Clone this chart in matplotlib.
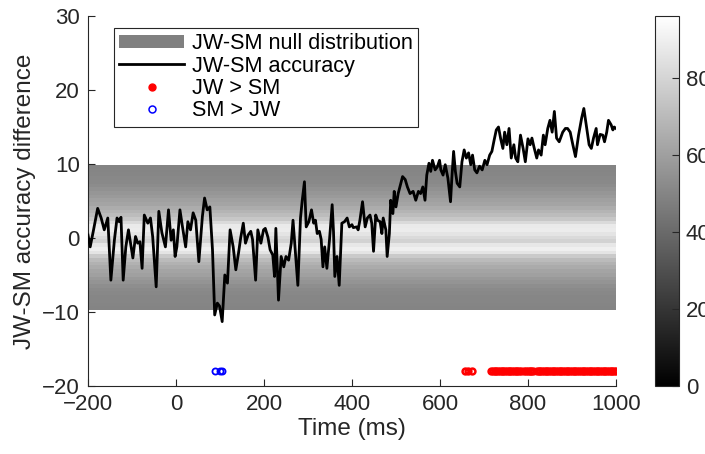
import matplotlib
matplotlib.use("Agg")
import matplotlib.pyplot as plt
from matplotlib.lines import Line2D
from matplotlib.patches import Patch
from matplotlib.colors import Normalize
from matplotlib.cm import ScalarMappable
import numpy as np

plt.rcParams['font.family'] = ['Liberation Sans', 'DejaVu Sans']

# observed JW-SM accuracy difference (ms, %)
acc_time = [-200, -195, -188, -178, -170, -163, -155, -148, -140, -134, -129, -125, -120, -114, -108,
            -102, -98, -92, -87, -82, -77, -72, -64, -58, -53, -45, -39, -32, -24, -17, -11, -6, -2,
            2, 9, 14, 22, 27, 33, 39, 45, 52, 60, 65, 71, 77, 83, 88, 94, 99, 105, 111, 117,
            123, 130, 136, 142, 147, 153, 158, 164, 170, 174, 181, 186, 193, 199,
            203, 209, 214, 220, 224, 227, 233, 239, 245, 250, 256, 262, 266, 271, 277, 283, 287, 292,
            296, 302, 308, 313, 317, 321, 326, 330, 334, 338, 343, 349, 355, 358, 361, 366, 371, 377,
            383, 389, 394, 400,
            403, 411, 414, 418, 424, 430, 435, 441, 445, 449, 454, 458, 464, 468, 471, 477, 480, 485,
            488, 493, 496, 500, 505, 511, 515, 521, 526, 532, 539, 545, 551, 556, 561, 566, 570, 575,
            579, 583, 589, 594, 599,
            602, 607, 612, 618, 624, 627, 631, 635, 639, 645, 650, 655, 660, 665, 670, 674, 679, 684,
            690, 696, 702, 707, 713, 718, 723, 728, 733, 738, 743, 747, 752, 757, 762, 768, 772, 777,
            783, 789, 794, 800,
            805, 809, 814, 820, 824, 830, 835, 839, 845, 850, 855, 860, 865, 871, 879, 885, 890, 896,
            902, 908, 915, 922, 927, 932, 936, 939, 944, 949, 955, 958, 964, 970, 974, 979, 983, 989,
            993, 996, 1000]
acc_diff = [0.4, -1.2, 0.9, 4.0, 2.7, 1.1, 2.7, -5.7, -0.3, 2.7, 2.2, 2.8, -5.7, -1.2, 1.1,
            -1.2, -2.7, 0.2, -0.7, -0.5, -4.1, 3.1, 2.0, 2.7, 0.2, -6.6, 3.6, 0.7, -1.2, 3.8, -0.3, 1.1, -2.5,
            -1.2, 3.8, 1.8, -1.2, 2.2, 1.1, 3.4, 2.4, -3.2, 2.9, 5.4, 3.8, 4.2, -1.6, -10.4, -8.8, -9.2, -11.3, -5.0, -6.1,
            1.1, -1.2, -4.3, -2.1, 0.0, 2.0, -0.7, 0.4, 0.9, -0.2, -5.7, 1.1, -0.7, 1.1,
            1.3, 0.1, -1.6, -2.3, -5.2, 1.3, -8.4, -2.5, -3.9, -2.5, -3.0, -0.7, 2.4, -1.6, -6.4, 2.7, 5.1, 7.6,
            1.5, 2.2, 3.8, 2.0, 2.4, 0.6, 0.9, -0.2, -3.9, -1.2, -4.1, -0.2, 4.5, 0.9, -5.2, -2.5, -6.4, 2.0,
            2.2, 2.7, 1.5, 1.8,
            1.4, 1.5, 1.1, 2.4, 4.9, 1.5, 2.7, 3.1, 2.0, -1.8, 3.1, 2.4, 2.2, 0.6, 2.7, 1.1, -2.5, 0.6,
            5.1, 3.3, 6.3, 4.2, 6.0, 7.4, 8.3, 7.9, 6.9, 6.0, 6.3, 5.1, 6.3, 6.0, 6.9, 5.1, 8.5, 10.1,
            9.0, 10.5, 9.2, 9.6, 10.5,
            9.2, 8.5, 9.9, 8.1, 4.9, 8.1, 11.7, 9.0, 7.4, 6.9, 10.3, 11.9, 10.8, 11.5, 9.9, 11.2, 9.2, 8.8,
            9.7, 9.2, 10.5, 9.9, 11.2, 11.7, 13.2, 14.6, 15.0, 13.4, 12.1, 14.3, 12.6, 14.8, 10.8, 12.6, 10.8, 10.3,
            13.9, 12.1, 10.3, 13.4,
            12.6, 13.5, 12.2, 10.8, 11.9, 11.2, 13.9, 12.6, 14.8, 15.9, 14.3, 17.1, 13.5, 13.0, 14.3, 14.8, 14.8, 14.3,
            12.6, 11.0, 13.9, 16.2, 17.5, 15.5, 14.0, 12.6, 12.1, 13.5, 14.8, 12.6, 14.0, 13.9, 13.0, 14.3, 15.9, 15.3,
            14.6, 15.0, 14.8]

# null distribution: counts per accuracy-difference bin (same at every time point)
null_bins = np.arange(-9.5, 10.0, 0.5)
null_counts = [3, 4, 5, 5, 6, 8, 11, 15, 19, 24, 28, 33, 38, 45, 56, 76, 84, 78, 62,
               68, 76, 82, 80, 68, 54, 46, 40, 34, 28, 24, 20, 17, 13, 9, 7, 6, 5, 4, 3]

# significant time points
sig_jw = [656, 664, 672] + [t for t in range(716, 1001, 4) if t not in (788, 816)]
sig_sm = [88, 100, 104]
sig_level = -18

fig = plt.figure(figsize=(7.05, 4.54), dpi=100)
ax = fig.add_axes([0.1248, 0.1498, 0.7489, 0.815])
cax = fig.add_axes([0.9291, 0.1498, 0.034, 0.815])

norm = Normalize(0, 96)
dy = null_bins[1] - null_bins[0]
ax.imshow(np.array(null_counts, dtype=float)[:, None], cmap='gray', norm=norm, alpha=0.5,
          aspect='auto', origin='lower', interpolation='nearest',
          extent=[-200, 1002, null_bins[0] - dy / 2, null_bins[-1] + dy / 2])

ax.plot(acc_time, acc_diff, color='black', lw=2.0, zorder=3)
ax.plot(sig_jw, [sig_level] * len(sig_jw), 'o', ms=4.2, mfc='none', mec='red', mew=1.8, zorder=3)
ax.plot(sig_sm, [sig_level] * len(sig_sm), 'o', ms=4.4, mfc='none', mec='blue', mew=1.3, zorder=3)

ax.set_xlim(-200, 1000)
ax.set_ylim(-20, 30)
ax.set_xticks(range(-200, 1001, 200))
ax.set_yticks(range(-20, 31, 10))
for s in ['top', 'right']:
    ax.spines[s].set_visible(False)
for s in ['left', 'bottom']:
    ax.spines[s].set_color('#262626')
    ax.spines[s].set_linewidth(0.8)
ax.tick_params(direction='in', length=5, width=0.8, color='#262626', labelcolor='#262626',
               labelsize=16, pad=6)
ax.set_xlabel('Time (ms)', fontsize=17.5, color='#262626', labelpad=2)
ax.set_ylabel('JW-SM accuracy difference', fontsize=17.5, color='#262626', labelpad=4)

handles = [Patch(facecolor='#808080', edgecolor='none'),
           Line2D([], [], color='black', lw=2.0),
           Line2D([], [], marker='o', ls='none', ms=5, mfc='red', mec='red'),
           Line2D([], [], marker='o', ls='none', ms=5, mfc='none', mec='blue', mew=1.1)]
labels = ['JW-SM null distribution', 'JW-SM accuracy', 'JW > SM', 'SM > JW']
leg = ax.legend(handles, labels, loc='upper left', bbox_to_anchor=(0.049, 0.968), borderaxespad=0,
                fontsize=15.6, frameon=True, fancybox=False, edgecolor='#262626', framealpha=1,
                handlelength=3.0, handleheight=0.6, handletextpad=0.35, labelspacing=0.06,
                borderpad=0.25)
leg.get_frame().set_linewidth(0.8)

cb = fig.colorbar(ScalarMappable(norm=norm, cmap='gray'), cax=cax)
cb.set_ticks([0, 20, 40, 60, 80])
cb.outline.set_edgecolor('#262626')
cb.outline.set_linewidth(0.8)
cax.tick_params(direction='in', length=5, width=0.8, color='#262626', labelcolor='#262626',
                labelsize=16, pad=5)

fig.savefig('out.png', dpi=100)
